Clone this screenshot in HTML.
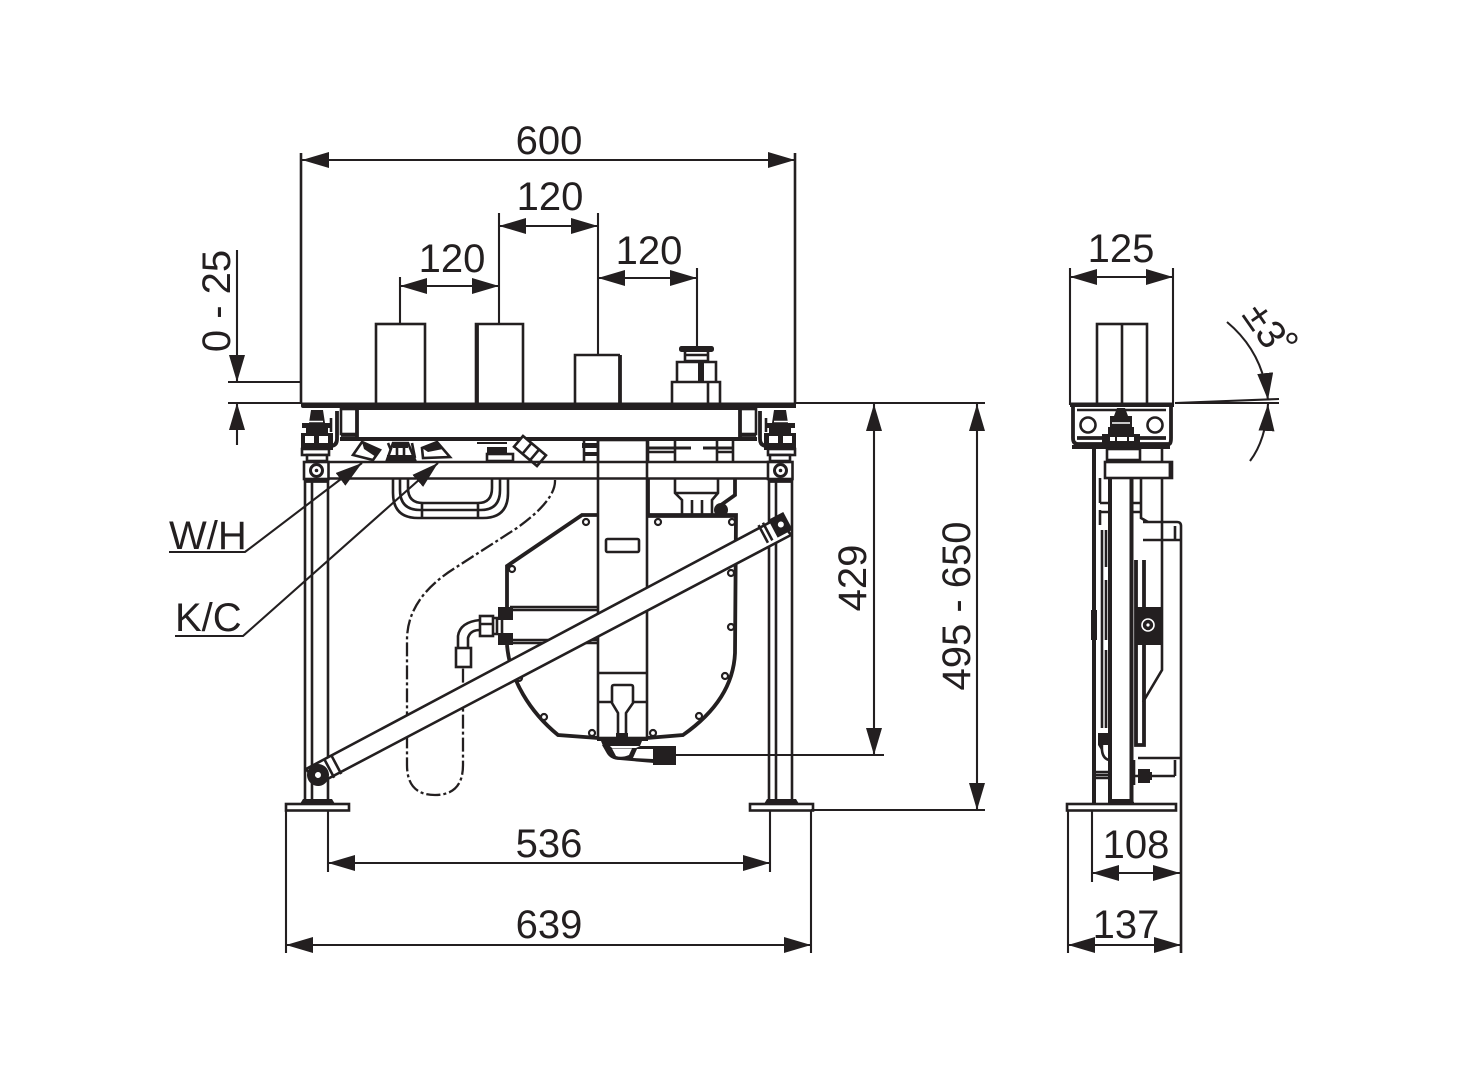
<!DOCTYPE html>
<html><head><meta charset="utf-8"><style>
html,body{margin:0;padding:0;background:#fff}
svg{display:block}
text{font-family:"Liberation Sans",Arial,sans-serif;font-size:40px;fill:#231f20;stroke:none}
.d{fill:none;stroke:#231f20;stroke-width:2.1}
.l{fill:none;stroke:#231f20;stroke-width:2.6}
.t{fill:none;stroke:#231f20;stroke-width:3.8}
.w{fill:#fff;stroke:#231f20;stroke-width:2.6}
.b{fill:#231f20;stroke:none}
</style></head><body>
<svg width="1464" height="1080" viewBox="0 0 1464 1080" xmlns="http://www.w3.org/2000/svg">
<defs>
<marker id="a" markerUnits="userSpaceOnUse" markerWidth="30" markerHeight="18" refX="27" refY="8" orient="auto-start-reverse"><path d="M0 0L27 8L0 16z" fill="#231f20"/></marker>
<g id="bolt">
<path class="b" d="M311 410H323L325 423H332V428H328V433H333V450H301V433H306V428H302V423H309z"/>
<path stroke="#fff" stroke-width="1.6" d="M306 421.500H323"/>
<rect fill="#fff" x="305" y="436" width="9" height="7"/><rect fill="#fff" x="319" y="436" width="9" height="7"/>
<rect class="w" x="302" y="449" width="27" height="6"/>
<rect class="w" x="307" y="455" width="20" height="6"/>
<path class="t" d="M337 411V439Q337 446 330 446"/>
<path class="l" d="M331 418V432"/>
<rect class="w" x="341" y="409" width="16" height="25"/>
<path class="t" d="M357 409V438M341 435H357"/>
</g>
<g id="leg">
<path class="l" d="M305 479V800M312 479V800M328 479V800"/>
<path class="t" d="M305 481H328"/>
<path class="b" d="M303 799H332L335 804H300z"/>
<rect class="w" x="286" y="804" width="63" height="6.500"/>
<rect class="w" x="304" y="462" width="24.500" height="17"/>
<circle fill="none" stroke="#231f20" stroke-width="3" cx="316.500" cy="470.500" r="6"/><circle class="b" cx="316.500" cy="470.500" r="1.800"/>
</g>
</defs>
<rect width="1464" height="1080" fill="#fff"/>

<!-- dashed hose -->
<path d="M555 480Q556 500 517 528L455 568Q407 598 407 640V765Q407 795 435 795Q463 795 463 765V668" fill="none" stroke="#231f20" stroke-width="2.300" stroke-dasharray="14 3 3 3"/>

<!-- housing -->
<path class="t" d="M598 515H582L507 566V610M507 645C510 680 530 712 558 735L598 738M647 738L683 735Q733 700 735 653L736 515H648"/>
<path class="l" d="M510 607H598M510 610H598M510 640H598M510 643H598"/>
<rect class="b" x="498" y="607" width="15" height="13"/><rect class="b" x="498" y="633" width="15" height="12"/>
<path class="l" d="M502 620V633M497 618V634"/>
<g fill="#fff" stroke="#231f20" stroke-width="2.200"><circle cx="586" cy="522" r="3"/><circle cx="512" cy="569" r="3"/><circle cx="658" cy="522" r="3"/><circle cx="732" cy="522" r="3"/><circle cx="731" cy="573" r="3"/><circle cx="731" cy="627" r="3"/><circle cx="725" cy="676" r="3"/><circle cx="699" cy="716" r="3"/><circle cx="653" cy="733" r="3"/><circle cx="592" cy="733" r="3"/><circle cx="544" cy="717" r="3"/><circle cx="519" cy="678" r="3"/></g>

<!-- elbow -->
<path class="l" d="M458 648V636Q460 622 480 620M468 648V638Q470 630 480 630"/>
<rect class="w" x="456" y="648" width="15" height="19"/>
<rect class="w" x="480" y="616" width="13" height="20"/>
<path class="l" d="M480 624H493M493 618H498M493 634H498"/>

<!-- central column -->
<rect class="l" x="598" y="440" width="49" height="298" fill="#fff"/>
<rect class="l" x="606" y="539" width="33" height="13" rx="1.500"/>
<path class="l" d="M598 673H647M598 702H612M633 702H647"/>
<path class="l" d="M612 687Q612 685 614 685H631Q633 685 633 687V703L626 713V736M612 687V703L618 713V736"/>
<path class="b" d="M597 737H648V741H597zM616 733H628V742H616zM601 741H642L640 746H603z"/>
<path class="b" d="M602 745L606 752Q610 760 620 760L654 763V746H640L636 748H612L609 745z"/>
<path fill="#fff" d="M612 748.500H632L629 755Q622 758 616 756zM637 749H653V759L633 758z"/>
<path class="b" d="M653 746H676V765H653z"/>
<path class="d" d="M676 755H884"/>

<!-- fixture under bar (right) -->
<path class="l" d="M675 478V493L682 500V515M718 478V493L712 500V515M692 500V515M702 500V515M675 493H718"/>
<path class="t" d="M648 478V516M648 516H737M735 478V495L721 505"/>
<circle class="b" cx="721" cy="510" r="7"/>

<!-- handle -->
<path class="l" d="M393 478V493Q393 518 418 518H483Q508 518 508 493V478M400 478V490Q400 510 420 510H481Q500 510 500 490V478M408 478V488Q408 503 423 503H478Q492 503 492 488V478M422 503V518M478 503V518"/>

<!-- top boxes -->
<rect class="l" x="376" y="324" width="49" height="80"/>
<path class="l" d="M476 404V324H523V404"/><path class="t" d="M477 324V404"/>
<path class="l" d="M575 404V355H620"/><path class="t" d="M620 355V404"/>
<rect x="679" y="346" width="35" height="6" rx="2.500" fill="#231f20"/>
<path class="l" d="M685 352V361H708V352M685 355H708"/>
<path class="l" d="M677 382V362H716V382M672 404V382H720V404M708 382V404"/>
<path fill="none" stroke="#231f20" stroke-width="6" d="M701 362V382"/>

<!-- beam, plate, bar -->
<path class="l" d="M301 404V153M795 404V153"/>
<path fill="none" stroke="#231f20" stroke-width="4" d="M340 439H757"/>
<path class="b" d="M301 402.500H796V408H303Q301 408 301 406z"/>
<path class="d" d="M340 409H756"/>

<!-- under-beam fittings -->
<path class="l" d="M388 443L393 455M412 443L415 458"/>
<path class="w" d="M393 443H408L415 460H387z"/>
<path class="b" d="M393 442H408V448H393zM387 455H415V461H387z"/>
<path class="l" d="M397 448V455M404 448V455"/>
<path class="w" d="M362 442L380 450L373 460L353 455z"/>
<path class="b" d="M362 442L380 450L376 457L364 449z"/>
<path class="w" d="M437 442L450 457L423 458L422 448z"/>
<path class="b" d="M437 442L443 449L428 452L422 448z"/>
<path class="d" d="M477 443H507"/>
<rect class="b" x="487" y="447" width="20" height="6"/>
<rect class="w" x="487" y="454" width="26" height="7"/>
<g transform="translate(530 451) rotate(40)"><rect class="w" x="-15" y="-7" width="30" height="14"/><path class="l" d="M-4 -7V7M6 -7V7"/></g>
<path class="l" d="M584 441V462M598 441V462"/>
<rect class="b" x="582" y="443" width="16" height="5"/>
<rect class="b" x="585" y="452" width="13" height="4"/>
<path class="l" d="M648 440V462M675 441V462M733 441V462M717 441V462M648 452H675M717 452H733"/>
<path fill="none" stroke="#231f20" stroke-width="3" d="M648 448H691M703 448H733"/>

<!-- legs + bolts -->
<use href="#leg"/>
<use href="#leg" x="464"/>
<use href="#bolt"/>
<use href="#bolt" transform="translate(1097 0) scale(-1 1)"/>
<path class="l" d="M328 462H769M328 478.500H769"/>

<!-- strut -->
<path d="M306 769L778 518L791 535L318 784z" fill="#fff" stroke="#231f20" stroke-width="2.600"/>
<g transform="translate(318 775) rotate(-28)"><path class="l" d="M13 -10V10M21 -10V10"/><circle class="b" cx="0" cy="0" r="11"/><circle fill="#fff" cx="0" cy="0" r="3"/></g>
<g transform="translate(780 525) rotate(-28)"><path class="b" d="M-8 -10H9V10H-8z"/><path class="l" d="M-14 -10V10M-19 -10V10"/><circle fill="#fff" cx="1" cy="0" r="3"/></g>

<!-- dim: top -->
<text x="549" y="154" text-anchor="middle">600</text>
<path class="d" marker-start="url(#a)" marker-end="url(#a)" d="M302 160H795"/>
<text x="550" y="210" text-anchor="middle">120</text>
<path class="d" d="M499 324V213M598 355V213"/>
<path class="d" marker-start="url(#a)" marker-end="url(#a)" d="M499 226H598"/>
<text x="452" y="272" text-anchor="middle">120</text>
<path class="d" d="M400 324V277"/>
<path class="d" marker-start="url(#a)" marker-end="url(#a)" d="M400 286H499"/>
<text x="649" y="264" text-anchor="middle">120</text>
<path class="d" d="M697 350V268"/>
<path class="d" marker-start="url(#a)" marker-end="url(#a)" d="M598 278H697"/>

<!-- 0-25 -->
<text transform="translate(230 301) rotate(-90)" text-anchor="middle">0 - 25</text>
<path class="d" marker-end="url(#a)" d="M237 250V382"/>
<path class="d" marker-end="url(#a)" d="M237 445V403"/>
<path class="d" d="M228 382H301M228 403H301"/>

<!-- leaders -->
<text x="169" y="549">W/H</text>
<path class="d" marker-end="url(#a)" d="M169 552H245L362 463"/>
<text x="175" y="631">K/C</text>
<path class="d" marker-end="url(#a)" d="M175 636H243L438 463"/>

<!-- bottom dims -->
<path class="d" d="M286 810V953M811 810V953M328 810V872M770 810V872"/>
<text x="549" y="857" text-anchor="middle">536</text>
<path class="d" marker-start="url(#a)" marker-end="url(#a)" d="M328 863H770"/>
<text x="549" y="938" text-anchor="middle">639</text>
<path class="d" marker-start="url(#a)" marker-end="url(#a)" d="M286 945H811"/>

<!-- right dims -->
<path class="d" d="M796 403H985M811 810H985"/>
<path class="d" marker-start="url(#a)" marker-end="url(#a)" d="M874 404V755"/>
<text transform="translate(866 578) rotate(-90)" text-anchor="middle">429</text>
<path class="d" marker-start="url(#a)" marker-end="url(#a)" d="M977 404V810"/>
<text transform="translate(970 606) rotate(-90)" text-anchor="middle">495 - 650</text>

<!-- SIDE VIEW -->
<path class="d" d="M1070 405V268M1173 405V268"/>
<text x="1121" y="262" text-anchor="middle">125</text>
<path class="d" marker-start="url(#a)" marker-end="url(#a)" d="M1070 277H1173"/>
<rect class="l" x="1097" y="324" width="50" height="80"/>
<path class="l" d="M1122 324V404"/>
<!-- lower lines -->
<path fill="none" stroke="#231f20" stroke-width="4" d="M1094 448V803M1110 448V803M1131.500 448V803"/>
<path fill="none" stroke="#231f20" stroke-width="6" d="M1094 610V640"/>
<path class="l" d="M1100 478V503M1100 510V525M1102 530V728M1106 530V567M1106 580V640M1106 650V728M1132 478V530M1141 478V518L1148 522"/>
<path class="l" d="M1100 503H1110M1100 512H1110M1132 503H1141M1132 512H1141"/>
<path class="l" d="M1162 448V670L1143 702"/>
<path class="l" d="M1143 522H1177Q1181 522 1181 526V953M1143 540H1181M1175 526V540M1138 758H1181M1175 760V776"/>
<path class="t" d="M1136 560V745L1144 745V560"/>
<rect class="b" x="1135" y="607" width="26" height="38"/>
<circle fill="none" stroke="#fff" stroke-width="1.600" cx="1148" cy="625" r="6"/><circle fill="#fff" cx="1148" cy="625" r="1.600"/>
<path class="b" d="M1098 733H1110V745H1102L1101 750L1098 745z"/>
<path class="l" d="M1102 745Q1101 758 1109 760M1095 775H1110M1095 778H1110M1095 772H1110"/>
<path class="l" d="M1134 760V785M1134 776H1152M1175 776H1152"/>
<rect class="b" x="1138" y="769" width="12" height="14"/><rect class="b" x="1148" y="772" width="4" height="8"/>
<path class="b" d="M1108 802L1112 799H1130L1134 802V804H1108z"/>
<rect class="w" x="1067" y="804" width="109" height="6.500"/>
<path class="d" d="M1068 810V953M1181 810V953M1092 810V882"/>
<text x="1136" y="858" text-anchor="middle">108</text>
<path class="d" marker-start="url(#a)" marker-end="url(#a)" d="M1092 873H1180"/>
<text x="1126" y="938" text-anchor="middle">137</text>
<path class="d" marker-start="url(#a)" marker-end="url(#a)" d="M1068 945H1181"/>

<!-- head of side view -->
<path class="b" d="M1070 402.500H1174V407H1070z"/>
<path class="t" d="M1073 407V438Q1073 444 1078 444H1169Q1171 444 1171 438V407"/>
<path class="l" d="M1077 410H1166"/>
<path class="t" d="M1077 438H1166"/>
<circle class="w" cx="1088" cy="425" r="7.500" stroke-width="3.200"/><circle class="w" cx="1155" cy="425" r="7.500" stroke-width="3.200"/>
<path class="b" d="M1072 445H1170V449H1072z"/>
<path class="b" d="M1117 408H1125L1128 416H1132V427H1134V434H1140V445H1102V434H1108V427H1110V416H1114z"/>
<path stroke="#fff" stroke-width="1.500" d="M1112 423H1130"/>
<rect fill="#fff" x="1110" y="437" width="5" height="4"/><rect fill="#fff" x="1117" y="437" width="10" height="4"/><rect fill="#fff" x="1129" y="437" width="5" height="4"/>
<rect class="w" x="1107" y="449" width="33" height="11"/>
<rect class="w" x="1105" y="462" width="67" height="16"/>
<path class="t" d="M1170.500 462V478"/>

<!-- angle -->
<path class="d" d="M1175 403L1279 399M1175 403L1279 403"/>
<path class="d" marker-end="url(#a)" d="M1227 322Q1263 352 1268 400"/>
<path class="d" marker-end="url(#a)" d="M1250 461Q1266 440 1268 404"/>
<text transform="translate(1241 315) rotate(55)">±3<tspan dx="-4" dy="-6">°</tspan></text>
</svg>
</body></html>
